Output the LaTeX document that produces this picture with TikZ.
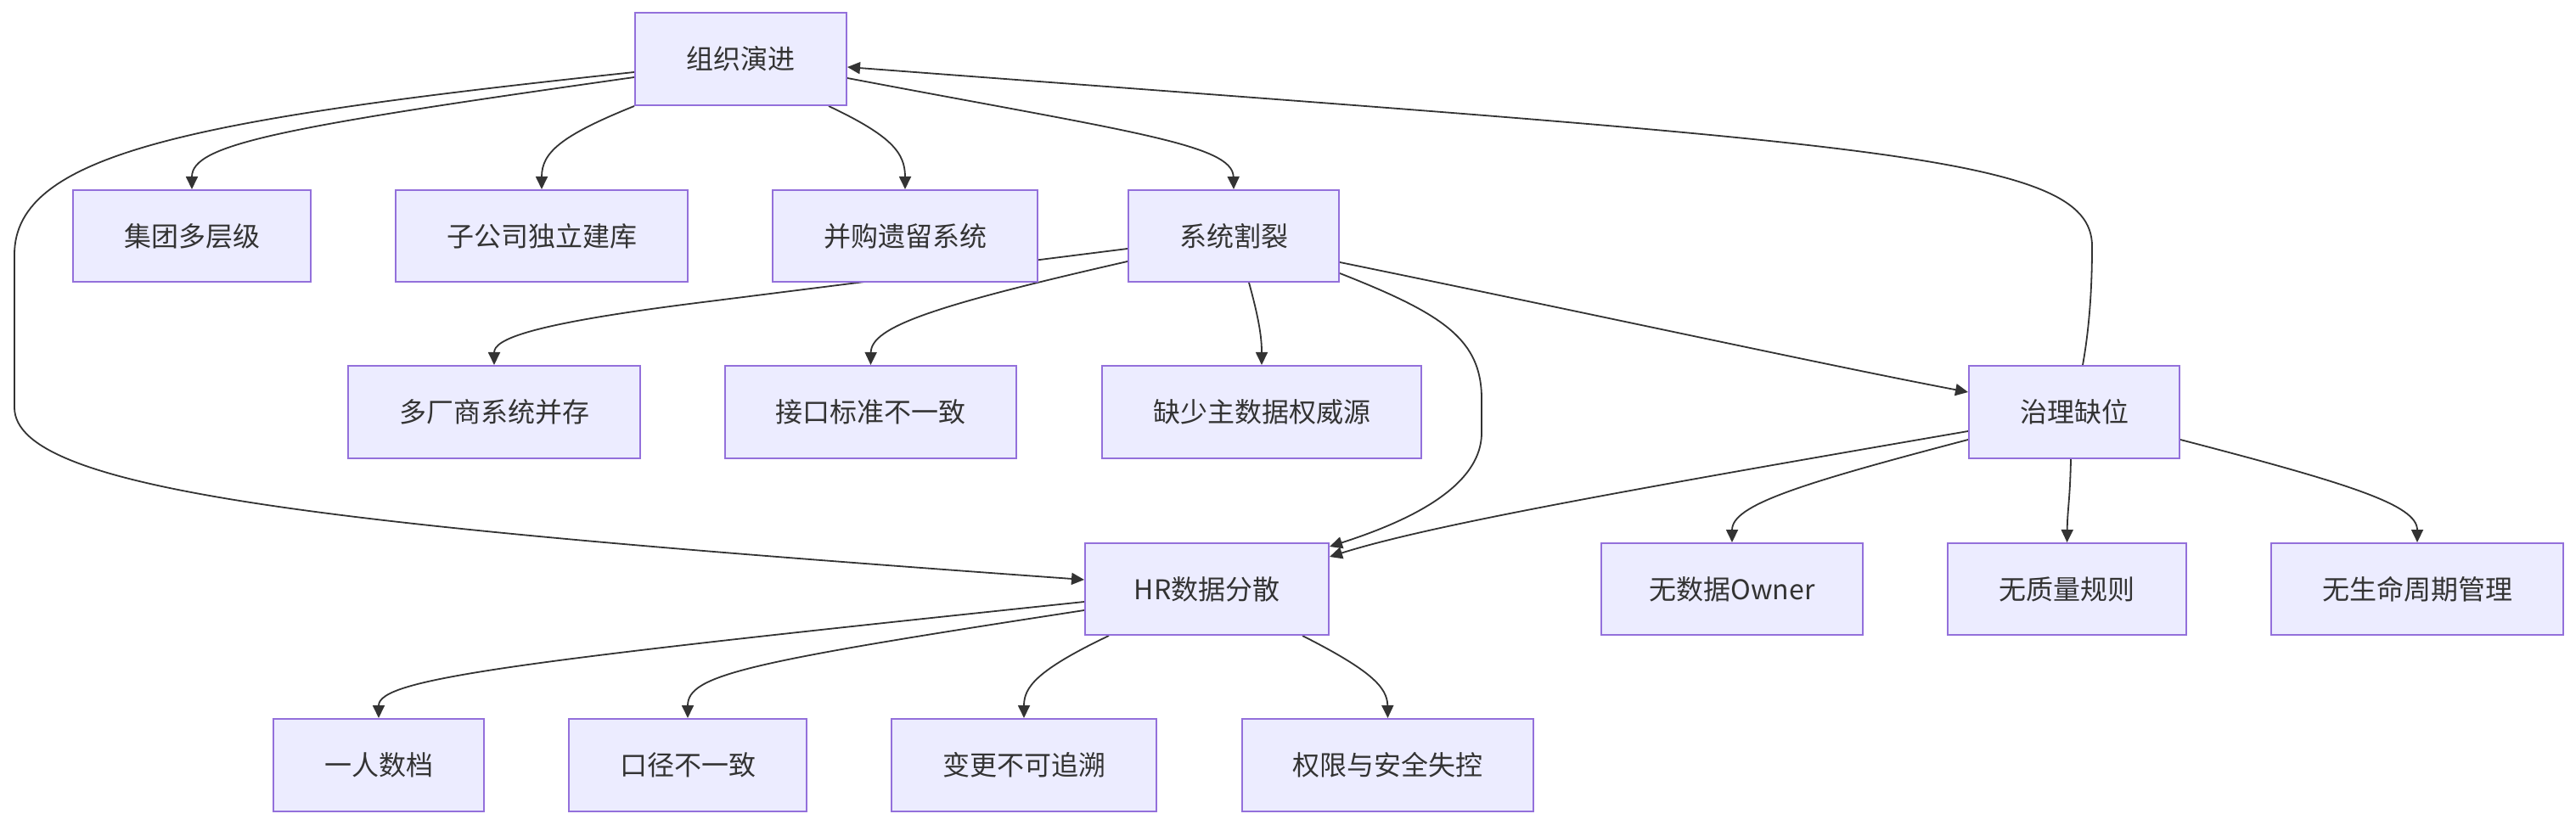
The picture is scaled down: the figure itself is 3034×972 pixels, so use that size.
\documentclass[tikz,border=0pt]{standalone}
\usepackage{fontspec}
\setmainfont{Noto Sans CJK SC}
\newfontfamily\cjk{Noto Sans CJK SC}
\usetikzlibrary{arrows.meta,backgrounds}
\definecolor{boxfill}{HTML}{ECECFF}
\definecolor{boxline}{HTML}{9370DB}
\definecolor{txt}{HTML}{333333}
\definecolor{edgecol}{HTML}{333333}
\tikzset{
  box/.style={draw=boxline, fill=boxfill, line width=1pt, inner sep=0pt, text=txt,
    font=\cjk\fontsize{16}{19}\selectfont},
  conn/.style={draw=edgecol, line width=0.9pt, -{Triangle[length=7.5pt,width=7pt]}}
}
\begin{document}
\begin{tikzpicture}[x=0.5pt,y=-0.5pt]
\useasboundingbox (0,0) rectangle (3034,972);
% nodes
\node[box, minimum width=124.5pt, minimum height=54.5pt] (A) at (872.5,69.5) {组织演进};
\node[box, minimum width=140pt, minimum height=54pt] (B) at (226,278) {集团多层级};
\node[box, minimum width=172pt, minimum height=54pt] (C) at (638,278) {子公司独立建库};
\node[box, minimum width=156pt, minimum height=54pt] (D) at (1066,278) {并购遗留系统};
\node[box, minimum width=124pt, minimum height=54pt] (E) at (1453,278) {系统割裂};
\node[box, minimum width=172pt, minimum height=54.5pt] (F) at (582,485.5) {多厂商系统并存};
\node[box, minimum width=171.5pt, minimum height=54.5pt] (G) at (1025.5,485.5) {接口标准不一致};
\node[box, minimum width=188pt, minimum height=54.5pt] (H) at (1486,485.5) {缺少主数据权威源};
\node[box, minimum width=124pt, minimum height=54.5pt] (I) at (2443,485.5) {治理缺位};
\node[box, minimum width=143.5pt, minimum height=54pt] (J) at (1421.5,694) {HR数据分散};
\node[box, minimum width=154pt, minimum height=54pt] (K) at (2040,694) {无数据Owner};
\node[box, minimum width=140.5pt, minimum height=54pt] (L) at (2434.5,694) {无质量规则};
\node[box, minimum width=172pt, minimum height=54pt] (M) at (2847,694) {无生命周期管理};
\node[box, minimum width=124pt, minimum height=54.5pt] (N) at (446,901.5) {一人数档};
\node[box, minimum width=140pt, minimum height=54.5pt] (O) at (810,901.5) {口径不一致};
\node[box, minimum width=156pt, minimum height=54.5pt] (P) at (1206,901.5) {变更不可追溯};
\node[box, minimum width=171.5pt, minimum height=54.5pt] (Q) at (1634.5,901.5) {权限与安全失控};
% edges
\begin{pgfonlayer}{background}
\draw[conn] ([yshift=-10.75pt]A.west) .. controls (330,150) and (226,170) .. (B.north);
\draw[conn] (A.south west) .. controls (660,160) and (638,180) .. (C.north);
\draw[conn] ([xshift=-11pt]A.south east) .. controls (1050,160) and (1066,180) .. (D.north);
\draw[conn] ([yshift=-11.25pt]A.east) .. controls (1330,155) and (1452,170) .. (E.north);
\draw[conn] ([yshift=-7.75pt]A.west) .. controls (230,140) and (17,180) .. (17,300)
   -- (17,480) .. controls (17,580) and (400,620) .. ([yshift=5.5pt]J.west);
\draw[conn] ([yshift=-7.5pt]E.west) -- (820,357) .. controls (622,382) and (582,400) .. (F.north);
\draw[conn] ([yshift=-15pt]E.west) .. controls (1100,360) and (1026,385) .. (G.north);
\draw[conn] ([xshift=9pt]E.south) .. controls (1484,380) and (1486,400) .. (H.north);
\draw[conn] ([yshift=-22pt]E.east) .. controls (1700,370) and (1745,400) .. (1745,470)
   -- (1745,510) .. controls (1745,580) and (1640,620) .. ([yshift=-2.5pt]J.north east);
\draw[conn] ([yshift=-15.5pt]E.east) .. controls (1900,375) and (2150,430) .. ([yshift=11.75pt]I.west);
\draw[conn] ([xshift=5pt]I.north) .. controls (2462,380) and (2464,330) .. (2464,290)
   .. controls (2464,180) and (2200,170) .. ([yshift=-4.75pt]A.east);
\draw[conn] ([yshift=-11.25pt]I.west) .. controls (1900,580) and (1680,620) .. ([yshift=-8.5pt]J.north east);
\draw[conn] ([yshift=-16.25pt]I.west) .. controls (2120,570) and (2040,595) .. (K.north);
\draw[conn] ([xshift=-2pt]I.south) .. controls (2438,590) and (2435,600) .. (L.north);
\draw[conn] ([yshift=-16.25pt]I.east) .. controls (2768,570) and (2847,595) .. (M.north);
\draw[conn] ([yshift=-7.5pt]J.west) .. controls (600,780) and (446,800) .. (N.north);
\draw[conn] ([yshift=-12.5pt]J.west) .. controls (880,780) and (810,795) .. (O.north);
\draw[conn] ([xshift=14.5pt]J.south west) .. controls (1220,790) and (1206,810) .. (P.north);
\draw[conn] ([xshift=-16pt]J.south east) .. controls (1615,790) and (1634,810) .. (Q.north);
\end{pgfonlayer}
\end{tikzpicture}
\end{document}
